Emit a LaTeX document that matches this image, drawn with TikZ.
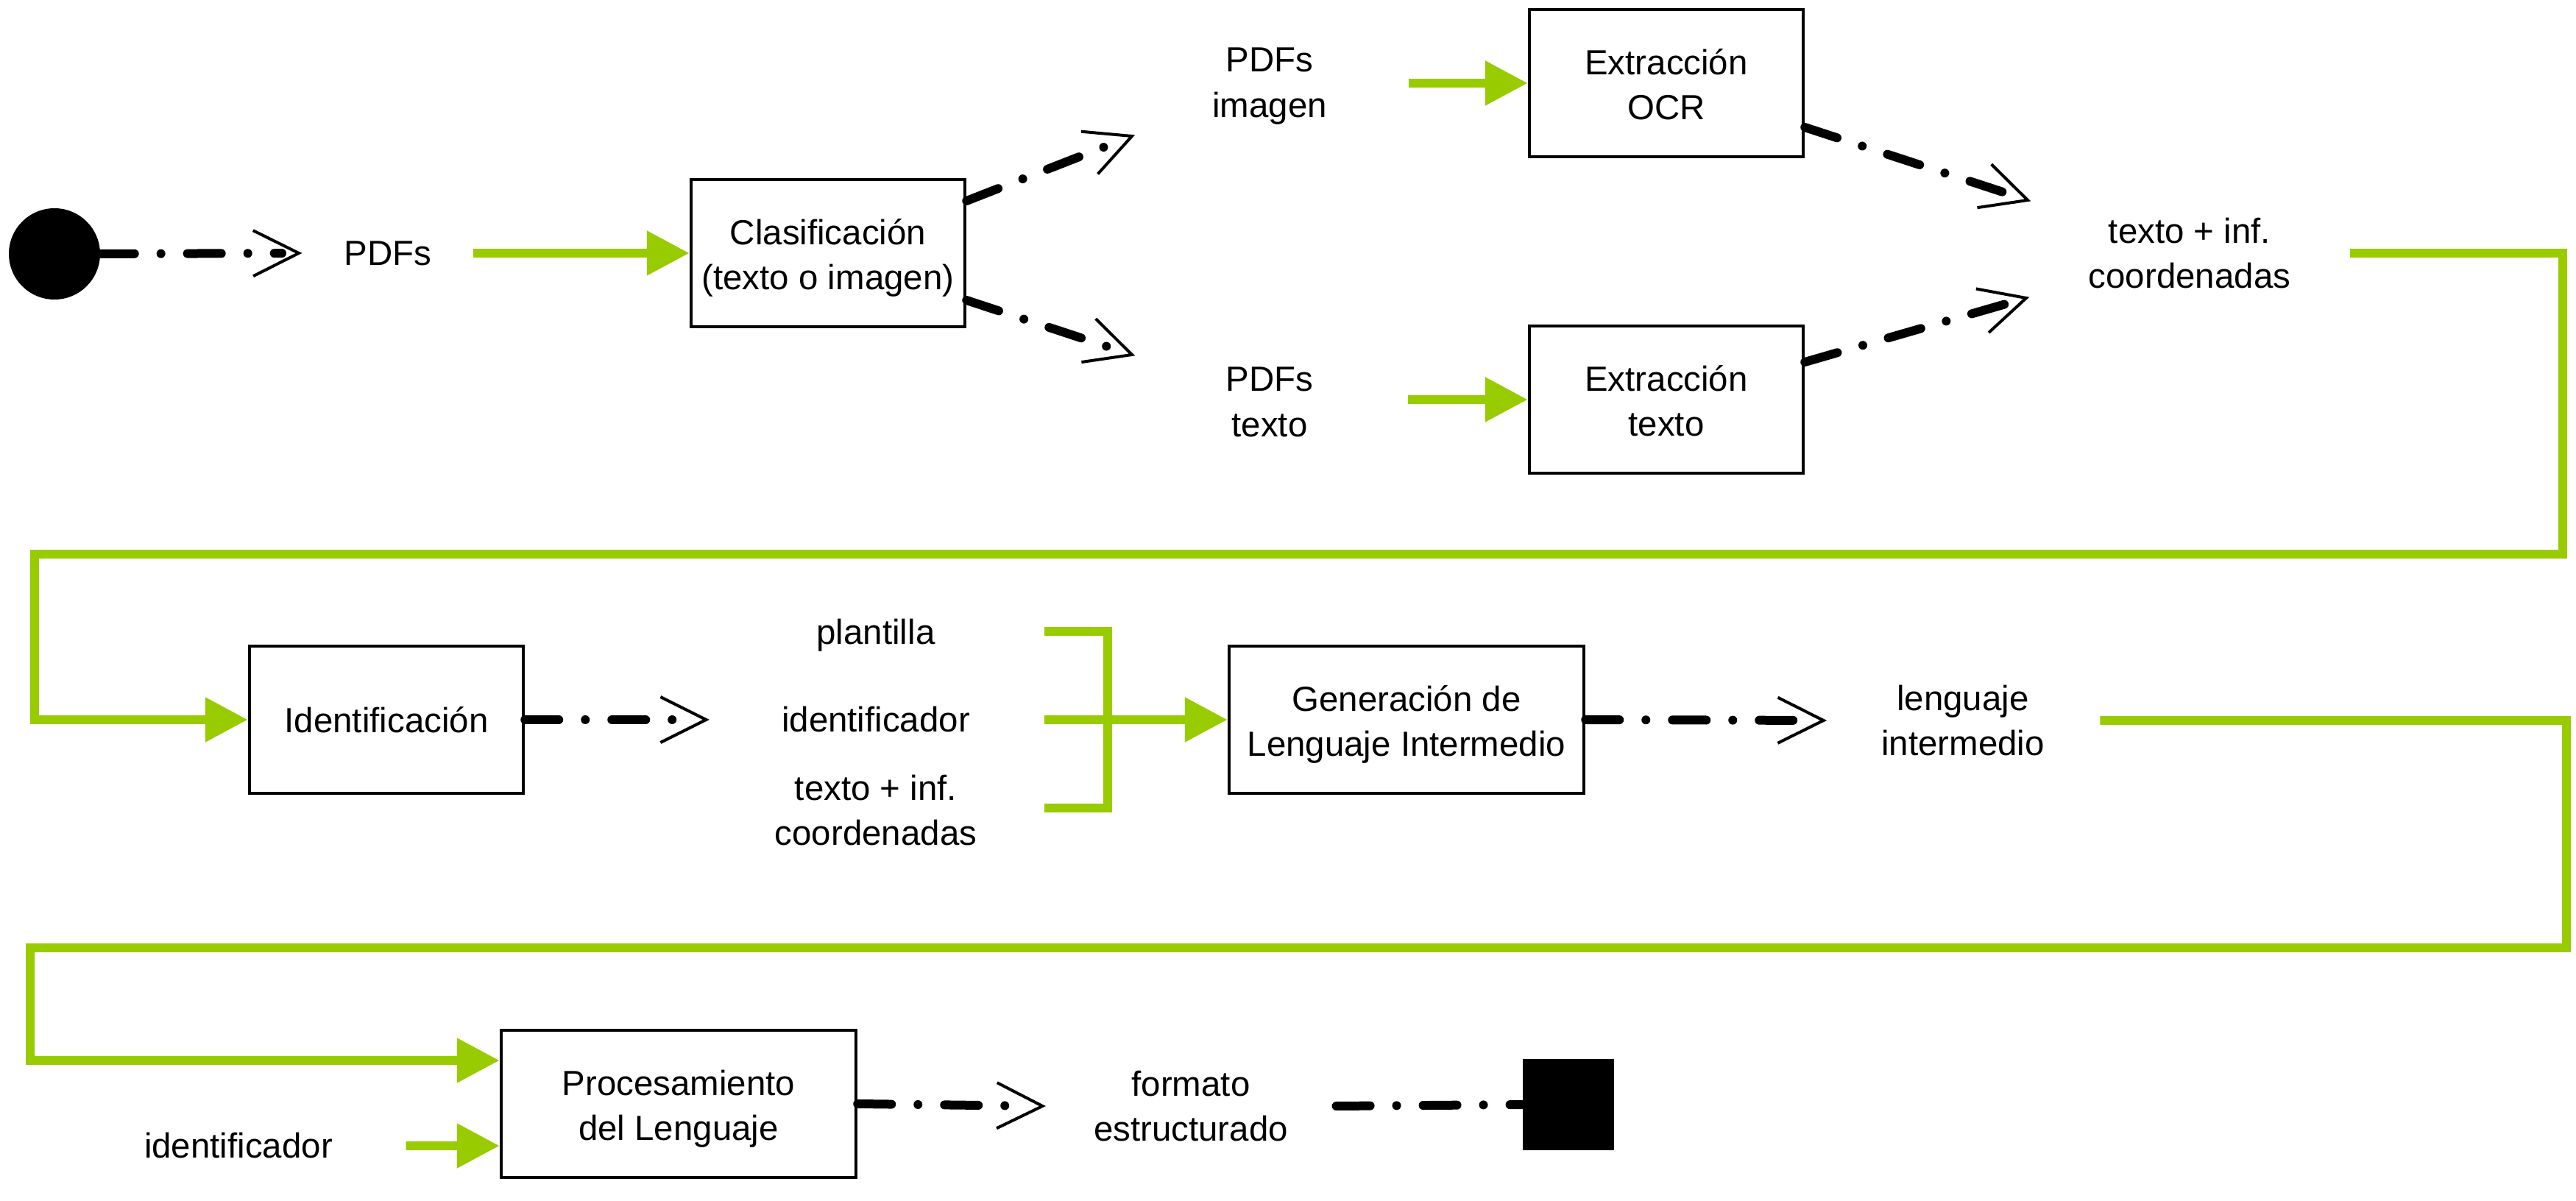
\documentclass[tikz,border=0pt]{standalone}
\usepackage{fontspec}
\setmainfont{Liberation Sans}
\usetikzlibrary{arrows.meta}

\definecolor{flowgreen}{HTML}{99CC00}
\newcommand\lblsize{\fontsize{13.5}{17.6}\selectfont}
\newcommand\twolines[2]{\rule{0pt}{15pt}#1\\#2\rule[-4.2pt]{0pt}{4.2pt}}
\newlength\boxw
\setlength\boxw{37.2mm}
\newlength\wideboxw
\setlength\wideboxw{48.2mm}
\newlength\boxh
\setlength\boxh{20mm}

\pgfdeclarearrow{
  name = OpenV,
  parameters = {\the\pgfarrowlength,\the\pgfarrowwidth},
  setup code = {
    \pgfarrowssettipend{0pt}
    \pgfarrowssetlineend{-2.3mm}
    \pgfarrowssetbackend{-\pgfarrowlength}
    \pgfarrowshullpoint{0pt}{0pt}
    \pgfarrowsupperhullpoint{-\pgfarrowlength}{.5\pgfarrowwidth}
    \pgfarrowssavethe\pgfarrowlength
    \pgfarrowssavethe\pgfarrowwidth
  },
  drawing code = {
    \pgfsetdash{}{0pt}
    \pgfsetbuttcap
    \pgfsetmiterjoin
    \pgfsetlinewidth{0.4mm}
    \pgfpathmoveto{\pgfqpoint{-\pgfarrowlength}{.5\pgfarrowwidth}}
    \pgfpathlineto{\pgfqpoint{0pt}{0pt}}
    \pgfpathlineto{\pgfqpoint{-\pgfarrowlength}{-.5\pgfarrowwidth}}
    \pgfusepathqstroke
  },
  defaults = {length=6.2mm, width=6.2mm}
}

\tikzset{
  lbl/.style={align=center, font=\lblsize, inner sep=0pt},
  stage/.style={lbl, draw, line width=0.45mm, minimum width=\boxw, minimum height=\boxh},
  widestage/.style={stage, minimum width=\wideboxw},
  ctrl/.style={line width=1.2mm, line cap=round, dash pattern=on 4.6mm off 3.6mm on 0mm off 3.6mm},
  ctrlarrow/.style={ctrl, -{OpenV}},
  data/.style={flowgreen, line width=1.2mm},
  dataarrow/.style={data, -{Triangle[length=5.8mm, width=5.8mm]}},
}

\begin{document}
\begin{tikzpicture}[x=1cm, y=-1cm]
  \useasboundingbox (0,0) rectangle (35,16.32);

  \node[circle, fill, minimum size=12.4mm, inner sep=0pt] (start) at (0.74,3.45) {};
  \node[lbl] (pdfs) at (5.27,3.44) {PDFs};
  \node[stage] (clas) at (11.25,3.44) {\twolines{Clasificación}{(texto o imagen)}};
  \node[lbl] (pimg) at (17.25,1.17) {PDFs\\imagen};
  \node[lbl] (ptxt) at (17.25,5.46) {PDFs\\texto};
  \node[stage] (ocr) at (22.64,1.13) {\twolines{Extracción}{OCR}};
  \node[stage] (etxt) at (22.64,5.43) {\twolines{Extracción}{texto}};
  \node[lbl] (tic) at (29.75,3.44) {texto + inf.\\coordenadas};

  \coordinate (pimgin) at (15.38,1.85);
  \coordinate (ptxtin) at (15.38,4.82);
  \coordinate (ticup) at (27.55,2.72);
  \coordinate (ticdown) at (27.53,4.05);

  \draw[ctrlarrow] (start.east) -- ([xshift=-6.1mm]pdfs.west);
  \draw[dataarrow] ([xshift=5.6mm]pdfs.east) -- (clas.west);
  \draw[ctrlarrow] ([yshift=7.1mm]clas.east) -- (pimgin);
  \draw[ctrlarrow] ([yshift=-6.4mm]clas.east) -- (ptxtin);
  \draw[dataarrow] ([xshift=11mm]pimg.east |- ocr.west) -- (ocr.west);
  \draw[dataarrow] ([xshift=12.8mm]ptxt.east |- etxt.west) -- (etxt.west);
  \draw[ctrlarrow] ([yshift=-6mm]ocr.east) -- (ticup);
  \draw[ctrlarrow] ([yshift=5.1mm]etxt.east) -- (ticdown);

  \node[stage] (ident) at (5.25,9.78) {Identificación};
  \node[lbl] (plant) at (11.90,8.63) {plantilla};
  \node[lbl] (idf) at (11.90,9.78) {identificador};
  \node[lbl] (tic2) at (11.90,11.01) {texto + inf.\\coordenadas};
  \node[widestage] (gen) at (19.11,9.78) {\twolines{Generación de}{Lenguaje Intermedio}};
  \node[lbl] (lang) at (26.67,9.79) {lenguaje\\intermedio};

  \draw[dataarrow] ([xshift=8mm]tic.east) -| (34.82,7.53) -| (0.47,9.78) -- (ident.west);
  \draw[ctrlarrow] (ident.east) -- ([xshift=-10.2mm]idf.west);
  \draw[data] (14.19,8.58) -| (15.05,10.98) -- (14.19,10.98);
  \draw[dataarrow] ([xshift=10mm]idf.east) -- (gen.west);
  \draw[ctrlarrow] (gen.east) -- ([xshift=-7.8mm]lang.west);

  \node[widestage] (proc) at (9.22,15.00) {\twolines{Procesamiento}{del Lenguaje}};
  \node[lbl] (idf2) at (3.24,15.57) {identificador};
  \node[lbl] (fmt) at (16.18,15.03) {formato\\estructurado};
  \node[fill, minimum size=12.4mm, inner sep=0pt] (stop) at (21.31,15.01) {};

  \draw[dataarrow] ([xshift=7.5mm]lang.east) -| (34.87,12.88) -| (0.41,14.41) -- ([yshift=5.9mm]proc.west);
  \draw[dataarrow] ([xshift=9.9mm]idf2.east) -- ([yshift=-5.7mm]proc.west);
  \draw[ctrlarrow] (proc.east) -- ([xshift=-6.9mm]fmt.west);
  \draw[ctrl] ([xshift=6.5mm]fmt.east) -- (stop.west);
\end{tikzpicture}
\end{document}
